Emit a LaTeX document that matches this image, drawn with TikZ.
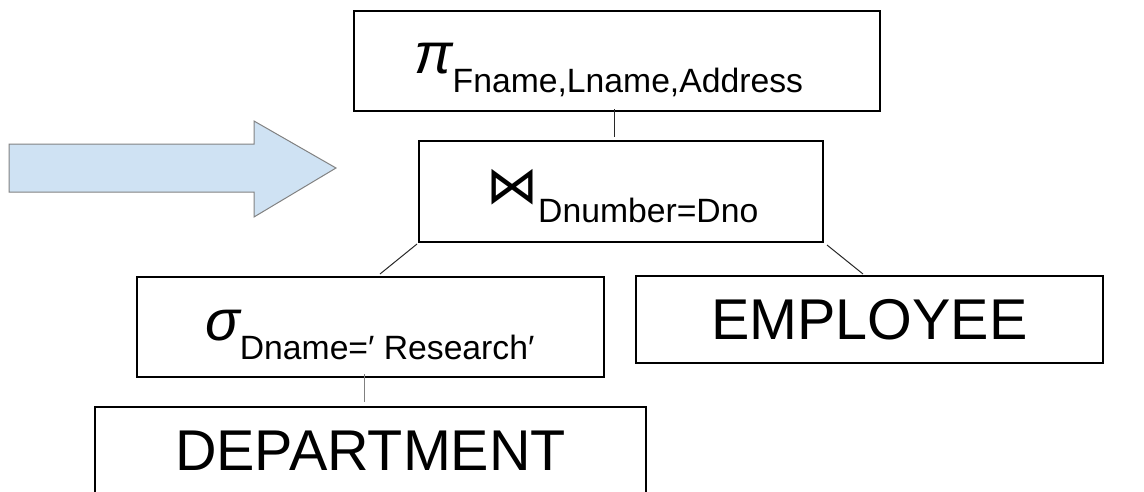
\documentclass[tikz,border=0pt]{standalone}
\usepackage{fontspec}
\setmainfont{Liberation Sans}
\newfontfamily\symfont{DejaVu Sans}
\definecolor{arrowfill}{RGB}{207,226,243}
\definecolor{arrowline}{RGB}{130,130,130}
\definecolor{connline}{RGB}{40,40,40}
\newcommand\opsize{\fontsize{57.5}{60}\selectfont}
\newcommand\subsize{\fontsize{33.7}{36}\selectfont}
\newcommand\lowered[1]{\raisebox{-19pt}{\subsize #1}}
\begin{document}
\begin{tikzpicture}[x=1pt,y=-1pt,
  opbox/.style={draw=black,line width=2pt,inner sep=0pt},
  oplabel/.style={inner sep=0pt,anchor=base west},
  relbox/.style={draw=black,line width=2pt,inner sep=0pt,font=\opsize},
  conn/.style={draw=connline,line width=1pt}]
\useasboundingbox (0,0) rectangle (1144,491);
\clip (0,0) rectangle (1144,491);

% big block arrow on the left
\draw[fill=arrowfill,draw=arrowline,line width=1pt]
  (9,144) -- (254,144) -- (254,121) -- (336,168) -- (254,217) -- (254,192) -- (9,192) -- cycle;

% operator and relation boxes
\node[opbox,minimum width=526pt,minimum height=100pt] (pi) at (617,61) {};
\node[opbox,minimum width=404pt,minimum height=101pt] (join) at (621,191.5) {};
\node[opbox,minimum width=467pt,minimum height=100pt] (sigma) at (370.5,327) {};
\node[relbox,minimum width=467pt,minimum height=87pt] (emp) at (869.5,319.5) {EMPLOYEE};
\node[relbox,minimum width=551pt,minimum height=87pt] (dept) at (370.5,450.5) {DEPARTMENT};

% operator labels
\node[oplabel] (pilabel) at (414,73) {{\opsize\itshape π}\lowered{Fname,Lname,Address}};
\node[oplabel] (joinlabel) at (486,203) {{\symfont\fontsize{52}{56}\selectfont ⋈}\lowered{Dnumber=Dno}};
\node[oplabel] (sigmalabel) at (205,340) {{\opsize\itshape σ}\lowered{Dname=′ Research′}};

% tree edges
\draw[conn] ([xshift=-3pt,yshift=3pt]pi.south) -- ([xshift=-7pt,yshift=3pt]join.north);
\draw[conn] ([xshift=-1pt,yshift=-1pt]join.south west) -- ([xshift=9.5pt,yshift=2pt]sigma.north);
\draw[conn] ([xshift=3pt,yshift=-2pt]join.south east) -- ([xshift=-6.5pt,yshift=1pt]emp.north);
\draw[conn,draw=gray] ([xshift=-6.5pt,yshift=4pt]sigma.south) -- ([xshift=-6.5pt,yshift=4pt]dept.north);
\end{tikzpicture}
\end{document}
